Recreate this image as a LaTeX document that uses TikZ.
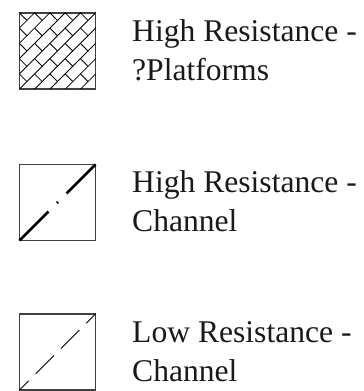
\documentclass[tikz,border=0pt]{standalone}
\usepackage{fontspec}
\setmainfont{Liberation Serif}
\begin{document}
\begin{tikzpicture}[x=1pt, y=1pt]
    \tikzstyle{swatch} = [rectangle, draw=black!75, line width=1.6pt, minimum size=76pt, inner sep=0pt, outer sep=0pt]
    \tikzstyle{hatch} = [black, line width=0.8pt]
    \tikzstyle{legendtext} = [anchor=base west, align=left, inner sep=0pt, text=black!90, font=\fontsize{31.6}{39}\selectfont]
    \useasboundingbox (0,0) rectangle (364,391);

    \node[swatch] (B1) at (57.5,340) {};
    \node[swatch] (B2) at (57.5,188.5) {};
    \node[swatch] (B3) at (57.5,39) {};

    % brick hatching, turned by 45 degrees
    \begin{scope}
        \clip (B1.south west) rectangle (B1.north east);
        \begin{scope}[shift={(B1.center)}, rotate=45]
            \foreach \k in {-6,...,5} {
                \draw[hatch] (-62,\k*10.8) -- (62,\k*10.8);
                \pgfmathsetmacro{\off}{mod(\k+20,2)*10.8}
                \foreach \j in {-4,...,3}
                    \draw[hatch] (\j*21.6+\off,\k*10.8) -- ++(0,10.8);
            }
        \end{scope}
    \end{scope}

    \draw[line width=2.8pt, dash pattern=on 41pt off 12pt on 1.5pt off 12pt on 41pt] (B2.north east) -- (B2.south west);
    \draw[line width=0.9pt, dash pattern=on 26pt off 9.8pt, dash phase=13pt] (B3.north east) -- (B3.south west);

    \node[legendtext] (T1) at (132,310.5) {High Resistance -\\?Platforms};
    \node[legendtext] (T2) at (132,159) {High Resistance -\\Channel};
    \node[legendtext] (T3) at (132,9.5) {Low Resistance -\\Channel};
\end{tikzpicture}
\end{document}
